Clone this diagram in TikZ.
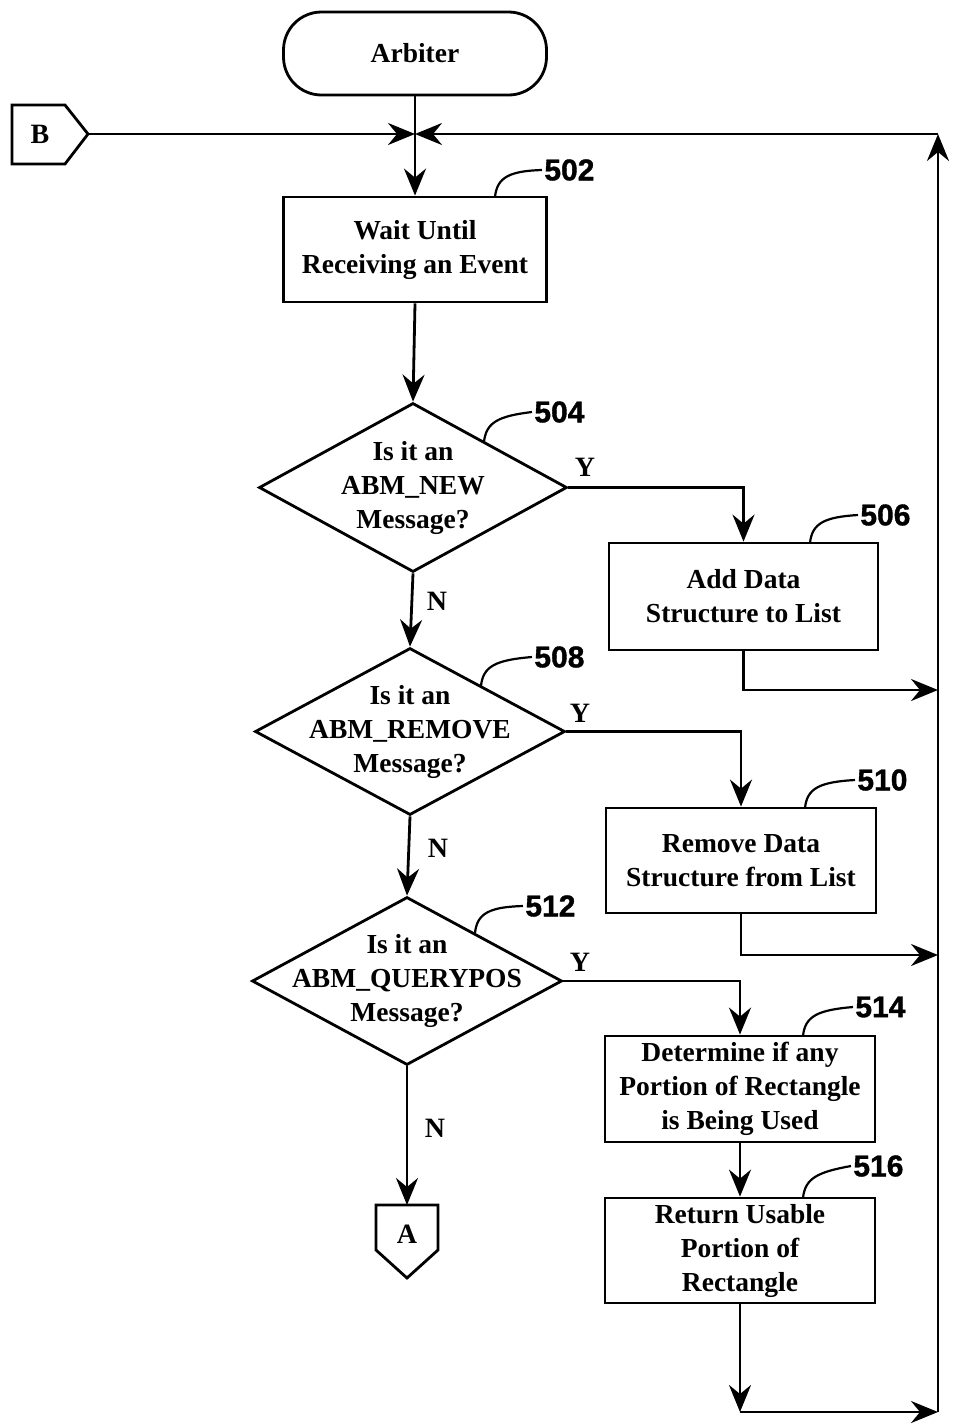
\documentclass[tikz,border=0pt]{standalone}
\usepackage{fontspec}
\setmainfont{Liberation Serif}
\newfontfamily\numfont[FakeBold=1.2]{Liberation Sans}
\usetikzlibrary{shapes.geometric,arrows.meta,calc}
\begin{document}
\begin{tikzpicture}[x=1pt,y=-1pt,line width=2.8pt,
  arr/.style={-{Stealth[length=27pt,width=22pt,inset=9pt]}},
  txt/.style={align=center,font=\bfseries\fontsize{27.5}{34}\selectfont,inner sep=0pt},
  box/.style={draw,rectangle,txt},
  dia/.style={draw,diamond,inner sep=0pt},
  num/.style={font=\numfont\bfseries\fontsize{30}{30}\selectfont,inner sep=1pt,anchor=west},
  yn/.style={font=\bfseries\fontsize{28}{28}\selectfont,inner sep=0pt},
  lead/.style={line width=2.2pt}]
\useasboundingbox (0,0) rectangle (953,1425);

% start
\node[box,rounded corners=38pt,minimum width=263pt,minimum height=83pt] (arb) at (415,53.5) {Arbiter};
\node[box,minimum width=263pt,minimum height=105pt] (b502) at (415,249.5) {Wait Until\\Receiving an Event};

\node[dia,minimum width=308pt,minimum height=169pt,label={[txt]center:Is it an\\ABM\_NEW\\Message?}] (d504) at (413,487.5) {};
\node[dia,minimum width=310pt,minimum height=167pt,label={[txt]center:Is it an\\ABM\_REMOVE\\Message?}] (d508) at (410,731.5) {};
\node[dia,minimum width=310pt,minimum height=168pt,label={[txt]center:Is it an\\ABM\_QUERYPOS\\Message?}] (d512) at (407,981) {};

\node[box,minimum width=269pt,minimum height=107pt] (b506) at (743.5,596.5) {Add Data\\Structure to List};
\node[box,minimum width=270pt,minimum height=105pt] (b510) at (741,860.5) {Remove Data\\Structure from List};
\node[box,minimum width=270pt,minimum height=106pt] (b514) at (740,1089) {Determine if any\\Portion of Rectangle\\is Being Used};
\node[box,minimum width=270pt,minimum height=105pt] (b516) at (740,1250.5) {Return Usable\\Portion of\\Rectangle};

% off-page connectors
\draw (12,105) -- (65,105) -- (88,134) -- (65,164) -- (12,164) -- cycle;
\node[yn] (Btxt) at (40,134) {B};
\coordinate (Btip) at (88,134);
\draw (376,1205) -- (438,1205) -- (438,1250) -- (407,1278) -- (376,1250) -- cycle;
\node[yn] (Atxt) at (407,1234) {A};
\coordinate (Atop) at (407,1205);

% junctions
\coordinate (merge) at (415,134);
\coordinate (rt) at (938,134);
\coordinate (rb) at (938,1412);
\coordinate (c516) at (740,1412);
\coordinate (j506) at (938,690);
\coordinate (j510) at (938,955);

% connectors
\draw[arr] (arb.south) -- (b502.north);
\draw[arr] (Btip) -- (merge);
\draw[arr] (rt) -- (merge);
\draw[arr] (b502.south) -- (d504.north);
\draw[arr] (d504.east) -| (b506.north);
\draw[arr] (d504.south) -- (d508.north);
\draw[arr] (d508.east) -| (b510.north);
\draw[arr] (d508.south) -- (d512.north);
\draw[arr] (d512.east) -| (b514.north);
\draw[arr] (d512.south) -- (Atop);
\draw[arr] (b514.south) -- (b516.north);
\draw[arr] (b506.south) |- (j506);
\draw[arr] (b510.south) |- (j510);
\draw[arr] (b516.south) -- (c516);
\draw[arr] (c516) -- (rb);
\draw[arr] (rb) -- (rt);

% Y / N labels
\node[yn] (y1) at (585,467) {Y};
\node[yn] (y2) at (580,713) {Y};
\node[yn] (y3) at (580,962) {Y};
\node[yn] (n1) at (437,601) {N};
\node[yn] (n2) at (438,848) {N};
\node[yn] (n3) at (435,1128) {N};

% reference numbers
\node[num] (n502) at (542,170) {502};
\node[num] (n504) at (532,412) {504};
\node[num] (n506) at (858,515) {506};
\node[num] (n508) at (532,657) {508};
\node[num] (n510) at (855,780) {510};
\node[num] (n512) at (523,906) {512};
\node[num] (n514) at (853,1007) {514};
\node[num] (n516) at (851,1166) {516};

\coordinate (s502) at (495,197);
\coordinate (s504) at (484,442);
\coordinate (s506) at (810,543);
\coordinate (s508) at (481,686);
\coordinate (s510) at (805,808);
\coordinate (s512) at (475,933);
\coordinate (s514) at (803,1036);
\coordinate (s516) at (803,1198);
\foreach \k in {502,504,506,508,510,512,514,516}{
  \draw[lead] (s\k) .. controls ($(s\k)+(2,-20)$) and ($(s\k)+(15,-26)$) .. (n\k.west);
}
\end{tikzpicture}
\end{document}
